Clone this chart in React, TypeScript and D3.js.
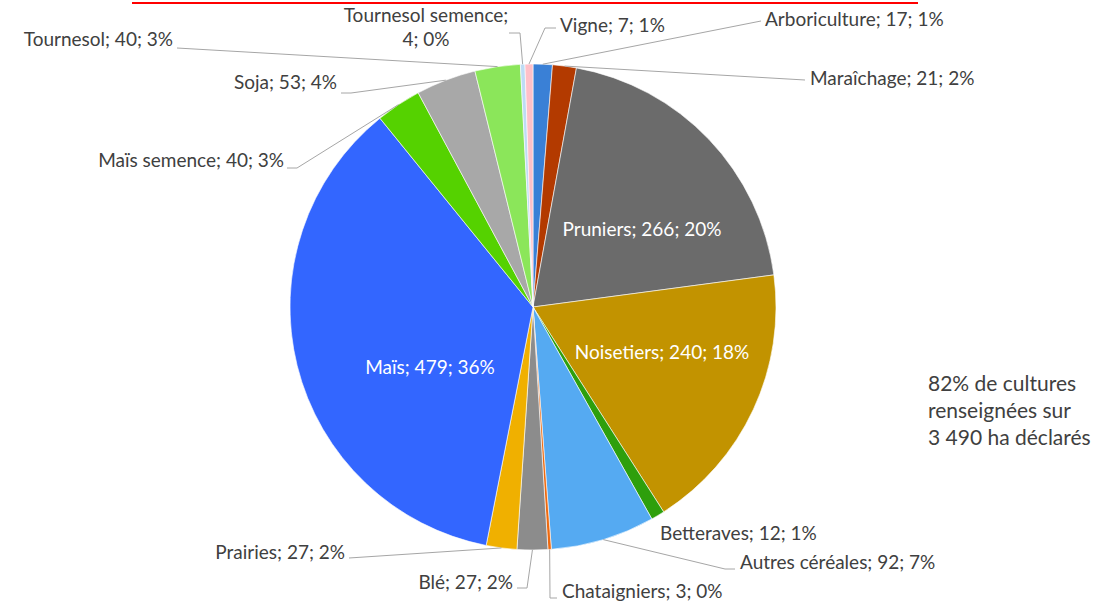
import React from "react";
import * as d3 from "d3";

const categories = [
  "Arboriculture", "Maraîchage", "Pruniers", "Noisetiers", "Betteraves",
  "Autres céréales", "Chataigniers", "Blé", "Prairies", "Maïs",
  "Maïs semence", "Soja", "Tournesol", "Tournesol semence", "Vigne",
];
const values = [17, 21, 266, 240, 12, 92, 3, 27, 27, 479, 40, 53, 40, 4, 7];
const percents = ["1%", "2%", "20%", "18%", "1%", "7%", "0%", "2%", "2%", "36%", "3%", "4%", "3%", "0%", "1%"];
const colors = [
  "#3a80d6", "#b33a00", "#6b6b6b", "#c29300", "#2e9f0c",
  "#55aaf2", "#ee6a10", "#8c8c8c", "#f0b000", "#3366ff",
  "#55d200", "#a8a8a8", "#8be65a", "#bedcf5", "#ffc0c8",
];
const noteLines = ["82% de cultures", "renseignées sur", "3 490 ha déclarés"];

type Lay = { x: number; y: number; anchor: string; inside?: boolean; lines?: number; elbow?: [number, number][] };
const layout: Record<string, Lay> = {
  "Arboriculture": { x: 765, y: 26, anchor: "start", elbow: [[761, 21]] },
  "Maraîchage": { x: 810, y: 85, anchor: "start", elbow: [[805, 80]] },
  "Pruniers": { x: 642, y: 236, anchor: "middle", inside: true },
  "Noisetiers": { x: 662, y: 359, anchor: "middle", inside: true },
  "Betteraves": { x: 660, y: 540, anchor: "start" },
  "Autres céréales": { x: 740, y: 569, anchor: "start", elbow: [[735, 569], [725, 569]] },
  "Chataigniers": { x: 562, y: 598, anchor: "start", elbow: [[557, 598], [550, 598]] },
  "Blé": { x: 513, y: 589, anchor: "end", elbow: [[517, 588], [527, 588]] },
  "Prairies": { x: 345, y: 559, anchor: "end", elbow: [[349, 558]] },
  "Maïs": { x: 430, y: 374, anchor: "middle", inside: true },
  "Maïs semence": { x: 284, y: 167, anchor: "end", elbow: [[287, 168], [297, 168]] },
  "Soja": { x: 337, y: 89, anchor: "end", elbow: [[341, 93], [351, 93]] },
  "Tournesol": { x: 173, y: 46, anchor: "end", elbow: [[177, 48]] },
  "Tournesol semence": { x: 426, y: 22, anchor: "middle", lines: 2, elbow: [[509, 33], [520, 33]] },
  "Vigne": { x: 560, y: 32, anchor: "start", elbow: [[556, 28], [545, 28]] },
};

const W = 1115, H = 602;
const cx = 533, cy = 307, R = 243;
const FONT = "Lato, 'Open Sans', sans-serif";
const FS = 19;

export default function App() {
  const data = categories.map((c, i) => ({ name: c, value: values[i], pct: percents[i], color: colors[i] }));
  const pie = d3.pie<any>().sort(null).value((d: any) => d.value).startAngle(0).endAngle(2 * Math.PI);
  const arcs = pie(data);
  const arc = d3.arc<any>().innerRadius(0).outerRadius(R);

  return (
    <svg width={W} height={H} style={{ position: "absolute", left: 0, top: 0, background: "#fff" }}
      fontFamily={FONT}>
      <rect x={0} y={0} width={W} height={H} fill="#fff" />
      <line x1={132} x2={918} y1={3} y2={3} stroke="#ff0000" strokeWidth={2} />
      <g transform={`translate(${cx},${cy})`}>
        {arcs.map((a, i) => (
          <path key={i} d={arc(a) as string} fill={a.data.color} stroke="#fff" strokeWidth={0.6} />
        ))}
      </g>
      {arcs.map((a, i) => {
        const L = layout[a.data.name];
        if (L.inside || !L.elbow) return null;
        const mid = (a.startAngle + a.endAngle) / 2;
        const ex = cx + R * Math.sin(mid);
        const ey = cy - R * Math.cos(mid);
        const pts: [number, number][] = [...L.elbow, [ex, ey]];
        return (
          <polyline key={"l" + i} points={pts.map((p) => p.join(",")).join(" ")} fill="none" stroke="#a6a6a6" strokeWidth={1} />
        );
      })}
      {arcs.map((a, i) => {
        const L = layout[a.data.name];
        const fill = L.inside ? "#ffffff" : "#404040";
        if (L.lines === 2) {
          return (
            <text key={"t" + i} x={L.x} y={L.y} textAnchor={L.anchor as any} fontSize={FS} fill={fill}>
              <tspan x={L.x}>{a.data.name};</tspan>
              <tspan x={L.x} dy={24}>{`${a.data.value}; ${a.data.pct}`}</tspan>
            </text>
          );
        }
        return (
          <text key={"t" + i} x={L.x} y={L.y} textAnchor={L.anchor as any} fontSize={FS} fill={fill}>
            {`${a.data.name}; ${a.data.value}; ${a.data.pct}`}
          </text>
        );
      })}
      <text x={928} y={391} fontSize={21} fill="#404040">
        {noteLines.map((t, i) => (
          <tspan key={i} x={928} dy={i === 0 ? 0 : 27}>{t}</tspan>
        ))}
      </text>
    </svg>
  );
}
